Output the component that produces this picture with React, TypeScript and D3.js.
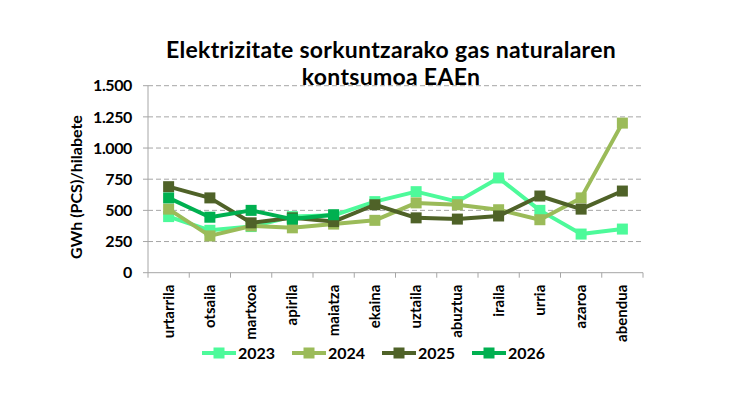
import React, { useEffect, useRef } from "react";
import * as d3 from "d3";

const months = ["urtarrila","otsaila","martxoa","apirila","maiatza","ekaina","uztaila","abuztua","iraila","urria","azaroa","abendua"];
const yTicks = [0, 250, 500, 750, 1000, 1250, 1500];
const seriesNames = ["2023", "2024", "2025", "2026"];
const seriesColors = ["#4DFA9A", "#9BBB59", "#4F6228", "#00B050"];
const v2023 = [450, 340, 370, 450, 460, 570, 650, 570, 760, 500, 310, 350];
const v2024 = [510, 295, 375, 360, 390, 420, 560, 545, 505, 425, 600, 1200];
const v2025 = [690, 600, 400, 440, 410, 545, 440, 430, 455, 615, 510, 655];
const v2026 = [600, 445, 500, 430, 465];
const seriesValues = [v2023, v2024, v2025, v2026];

const fmt = (v: number) => d3.format(",")(v).replace(/,/g, ".");

export default function App() {
  const ref = useRef<SVGSVGElement>(null);
  useEffect(() => {
    const svg = d3.select(ref.current);
    svg.selectAll("*").remove();
    const W = 750, H = 400;
    const left = 148, right = 643, top = 85.7, bottom = 272.7;
    const font = "Lato, 'Open Sans', sans-serif";

    const x = d3.scaleBand<string>().domain(months).range([left, right]);
    const y = d3.scaleLinear().domain([0, 1500]).range([bottom, top]);

    svg.append("rect").attr("width", W).attr("height", H).attr("fill", "#fff");

    // title
    const title = svg.append("text").attr("x", 391).attr("font-family", font)
      .attr("font-weight", "bold").attr("font-size", 23).attr("letter-spacing", 0.3)
      .attr("text-anchor", "middle").attr("fill", "#000");
    title.append("tspan").attr("x", 391).attr("y", 58).text("Elektrizitate sorkuntzarako gas naturalaren");
    title.append("tspan").attr("x", 391).attr("y", 85).text("kontsumoa EAEn");

    // gridlines
    svg.append("g").selectAll("line").data(yTicks.filter(t => t > 0)).join("line")
      .attr("x1", left).attr("x2", right)
      .attr("y1", d => y(d)).attr("y2", d => y(d))
      .attr("stroke", "#a6a6a6").attr("stroke-width", 1).attr("stroke-dasharray", "5,3");

    // y axis
    svg.append("line").attr("x1", left).attr("x2", left).attr("y1", top).attr("y2", bottom)
      .attr("stroke", "#a6a6a6").attr("stroke-width", 1);
    svg.append("g").selectAll("line").data(yTicks).join("line")
      .attr("x1", left - 5).attr("x2", left).attr("y1", d => y(d)).attr("y2", d => y(d))
      .attr("stroke", "#a6a6a6");
    svg.append("g").selectAll("text").data(yTicks).join("text")
      .attr("x", 132).attr("y", d => y(d)).attr("dy", "0.36em")
      .attr("text-anchor", "end").attr("font-family", font).attr("font-weight", "bold")
      .attr("font-size", 16).attr("letter-spacing", -0.4).attr("fill", "#000").text(d => fmt(d));

    // y axis title
    svg.append("text").attr("transform", `translate(82,187) rotate(-90)`)
      .attr("text-anchor", "middle").attr("font-family", font).attr("font-weight", "bold")
      .attr("font-size", 16).attr("fill", "#000").text("GWh (PCS)/hilabete");

    // x axis
    svg.append("line").attr("x1", left).attr("x2", right).attr("y1", bottom).attr("y2", bottom)
      .attr("stroke", "#a6a6a6").attr("stroke-width", 1);
    const bounds = months.map(m => x(m)!).concat([right]);
    svg.append("g").selectAll("line").data(bounds).join("line")
      .attr("x1", d => d).attr("x2", d => d).attr("y1", bottom).attr("y2", bottom + 5)
      .attr("stroke", "#a6a6a6");
    svg.append("g").selectAll("text").data(months).join("text")
      .attr("transform", d => `translate(${x(d)! + x.bandwidth() / 2 + 5},${bottom + 12}) rotate(-90)`)
      .attr("text-anchor", "end").attr("font-family", font).attr("font-weight", "bold")
      .attr("font-size", 15).attr("fill", "#000").text(d => d);

    // series
    const line = d3.line<number>().x((_, i) => x(months[i])! + x.bandwidth() / 2).y(d => y(d));
    seriesValues.forEach((vals, si) => {
      const g = svg.append("g");
      g.append("path").attr("d", line(vals)).attr("fill", "none")
        .attr("stroke", seriesColors[si]).attr("stroke-width", 4).attr("stroke-linejoin", "round");
      g.selectAll("rect").data(vals).join("rect")
        .attr("x", (_, i) => x(months[i])! + x.bandwidth() / 2 - 5.5)
        .attr("y", d => y(d) - 5.5).attr("width", 11).attr("height", 11)
        .attr("fill", seriesColors[si]);
    });

    // legend
    const lg = svg.append("g");
    seriesNames.forEach((n, i) => {
      const lx = 202 + i * 90, ly = 353;
      lg.append("line").attr("x1", lx).attr("x2", lx + 34).attr("y1", ly).attr("y2", ly)
        .attr("stroke", seriesColors[i]).attr("stroke-width", 4);
      lg.append("rect").attr("x", lx + 17 - 5.5).attr("y", ly - 5.5).attr("width", 11).attr("height", 11)
        .attr("fill", seriesColors[i]);
      lg.append("text").attr("x", lx + 36).attr("y", ly).attr("dy", "0.36em")
        .attr("font-family", font).attr("font-weight", "bold").attr("font-size", 16)
        .attr("fill", "#000").text(n);
    });
  }, []);
  return <svg ref={ref} width={750} height={400} style={{ display: "block", margin: "-8px" }} />;
}
